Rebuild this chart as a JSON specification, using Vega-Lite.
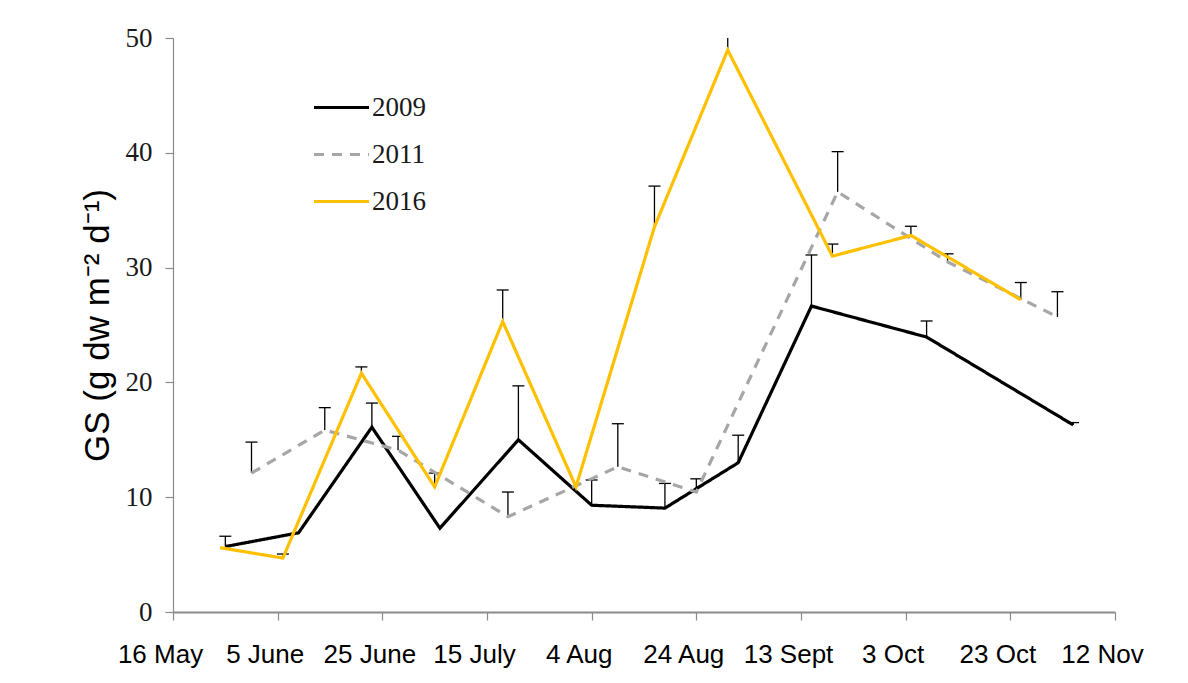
{
  "$schema": "https://vega.github.io/schema/vega-lite/v6.json",
  "width": 942,
  "height": 574,
  "autosize": "none",
  "padding": {"left": 173, "top": 38, "right": 73, "bottom": 71},
  "background": "white",
  "config": {"view": {"stroke": null}},
  "data": {
    "values": [
      {"year": "2009", "date": "2000-05-26", "gs": 5.7, "upper": 6.6},
      {"year": "2009", "date": "2000-06-09", "gs": 6.9, "upper": null},
      {"year": "2009", "date": "2000-06-23", "gs": 16.1, "upper": 18.2},
      {"year": "2009", "date": "2000-07-06", "gs": 7.3, "upper": null},
      {"year": "2009", "date": "2000-07-21", "gs": 15.0, "upper": 19.7},
      {"year": "2009", "date": "2000-08-04", "gs": 9.3, "upper": 11.5},
      {"year": "2009", "date": "2000-08-18", "gs": 9.05, "upper": 11.2},
      {"year": "2009", "date": "2000-09-01", "gs": 13.0, "upper": 15.4},
      {"year": "2009", "date": "2000-09-15", "gs": 26.65, "upper": 31.1},
      {"year": "2009", "date": "2000-10-07", "gs": 23.95, "upper": 25.35},
      {"year": "2009", "date": "2000-11-04", "gs": 16.3, "upper": 16.5},
      {"year": "2011", "date": "2000-05-31", "gs": 12.1, "upper": 14.8},
      {"year": "2011", "date": "2000-06-14", "gs": 15.85, "upper": 17.8},
      {"year": "2011", "date": "2000-06-28", "gs": 14.1, "upper": 15.3},
      {"year": "2011", "date": "2000-07-19", "gs": 8.3, "upper": 10.45},
      {"year": "2011", "date": "2000-08-09", "gs": 12.65, "upper": 16.4},
      {"year": "2011", "date": "2000-08-24", "gs": 10.45, "upper": 11.6},
      {"year": "2011", "date": "2000-09-20", "gs": 36.6, "upper": 40.1},
      {"year": "2011", "date": "2000-10-11", "gs": 30.5, "upper": 31.2},
      {"year": "2011", "date": "2000-11-01", "gs": 25.7, "upper": 27.9},
      {"year": "2016", "date": "2000-05-25", "gs": 5.6, "upper": null},
      {"year": "2016", "date": "2000-06-06", "gs": 4.7, "upper": 5.05},
      {"year": "2016", "date": "2000-06-21", "gs": 20.8, "upper": 21.35},
      {"year": "2016", "date": "2000-07-05", "gs": 10.9, "upper": 12.1},
      {"year": "2016", "date": "2000-07-18", "gs": 25.3, "upper": 28.05},
      {"year": "2016", "date": "2000-08-01", "gs": 10.9, "upper": null},
      {"year": "2016", "date": "2000-08-16", "gs": 33.55, "upper": 37.1},
      {"year": "2016", "date": "2000-08-30", "gs": 48.95, "upper": 51},
      {"year": "2016", "date": "2000-09-19", "gs": 31.0, "upper": 32.05},
      {"year": "2016", "date": "2000-10-04", "gs": 32.8, "upper": 33.6},
      {"year": "2016", "date": "2000-10-25", "gs": 27.2, "upper": 28.7}
    ]
  },
  "encoding": {
    "x": {
      "field": "date",
      "type": "temporal",
      "scale": {
        "type": "utc",
        "domain": [
          {"year": 2000, "month": "may", "date": 16, "utc": true},
          {"year": 2000, "month": "nov", "date": 12, "utc": true}
        ]
      },
      "axis": {
        "title": null,
        "grid": false,
        "values": [
          {"year": 2000, "month": "may", "date": 16, "utc": true},
          {"year": 2000, "month": "jun", "date": 5, "utc": true},
          {"year": 2000, "month": "jun", "date": 25, "utc": true},
          {"year": 2000, "month": "jul", "date": 15, "utc": true},
          {"year": 2000, "month": "aug", "date": 4, "utc": true},
          {"year": 2000, "month": "aug", "date": 24, "utc": true},
          {"year": 2000, "month": "sep", "date": 13, "utc": true},
          {"year": 2000, "month": "oct", "date": 3, "utc": true},
          {"year": 2000, "month": "oct", "date": 23, "utc": true},
          {"year": 2000, "month": "nov", "date": 12, "utc": true}
        ],
        "labelExpr": "utcdate(datum.value) + ' ' + ['Jan','Feb','Mar','Apr','May','June','July','Aug','Sept','Oct','Nov','Dec'][utcmonth(datum.value)]",
        "labelFont": "Liberation Sans",
        "labelFontSize": 26,
        "labelColor": "#000000",
        "labelPadding": 21,
        "labelOffset": -13,
        "labelOverlap": false,
        "labelFlush": false,
        "domainColor": "#8a8a8a",
        "domainWidth": 2,
        "tickColor": "#8a8a8a",
        "tickWidth": 1.2,
        "tickSize": 8
      }
    },
    "y": {
      "field": "gs",
      "type": "quantitative",
      "scale": {"domain": [0, 50], "nice": false},
      "axis": {
        "title": "GS (g dw m⁻² d⁻¹)",
        "titleFont": "Liberation Sans",
        "titleFontSize": 35,
        "titleFontWeight": "normal",
        "titleColor": "#000000",
        "titlePadding": 10,
        "grid": false,
        "values": [0, 10, 20, 30, 40, 50],
        "labelFont": "Liberation Serif",
        "labelFontSize": 27,
        "labelColor": "#1a1a1a",
        "labelPadding": 13,
        "domainColor": "#8a8a8a",
        "domainWidth": 1.2,
        "tickColor": "#8a8a8a",
        "tickWidth": 1.2,
        "tickSize": 8
      }
    }
  },
  "layer": [
    {
      "transform": [{"filter": "isValid(datum.upper)"}],
      "mark": {"type": "rule", "color": "#000000", "strokeWidth": 1.3, "clip": true},
      "encoding": {
        "y2": {"field": "upper"}
      }
    },
    {
      "transform": [{"filter": "isValid(datum.upper)"}],
      "mark": {"type": "tick", "orient": "horizontal", "color": "#000000", "size": 12, "thickness": 1.3, "clip": true, "opacity": 1},
      "encoding": {
        "y": {"field": "upper", "type": "quantitative"}
      }
    },
    {
      "mark": {"type": "line", "strokeWidth": 3.2},
      "encoding": {
        "color": {
          "field": "year",
          "type": "nominal",
          "scale": {"domain": ["2009", "2011", "2016"], "range": ["#000000", "#a6a6a6", "#ffc000"]},
          "legend": {
            "title": null,
            "orient": "none",
            "legendX": 139,
            "legendY": 40,
            "padding": 0,
            "symbolType": "stroke",
            "symbolSize": 3025,
            "symbolStrokeWidth": 3.2,
            "rowPadding": 4,
            "labelFont": "Liberation Serif",
            "labelFontSize": 27,
            "labelColor": "#1a1a1a",
            "labelOffset": 1
          }
        },
        "strokeDash": {
          "field": "year",
          "type": "nominal",
          "scale": {"domain": ["2009", "2011", "2016"], "range": [[1, 0], [10, 8], [1, 0]]},
          "legend": null
        }
      }
    }
  ]
}
